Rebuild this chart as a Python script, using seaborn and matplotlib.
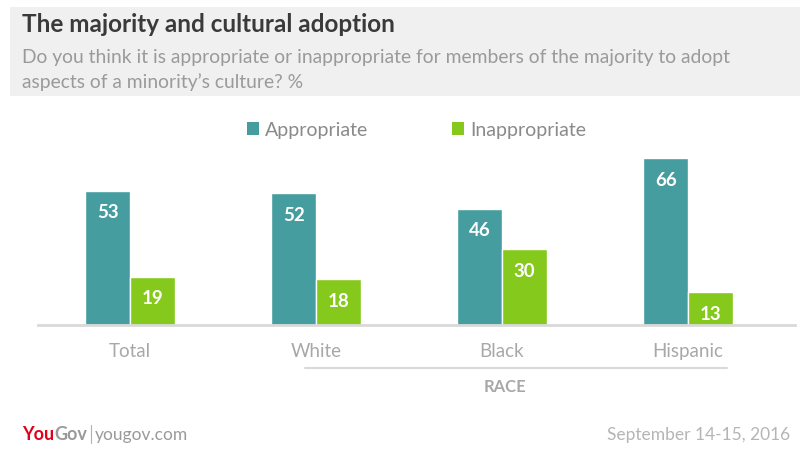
import matplotlib
matplotlib.use("Agg")
import matplotlib.pyplot as plt
from matplotlib.patches import Rectangle
from matplotlib.lines import Line2D
import seaborn as sns
import pandas as pd

categories = ["Total", "White", "Black", "Hispanic"]
series_names = ["Appropriate", "Inappropriate"]
appropriate = [53, 52, 46, 66]
inappropriate = [19, 18, 30, 13]
colors = ["#459da0", "#84c91c"]

df = pd.DataFrame({
    "group": categories * 2,
    "series": [series_names[0]] * 4 + [series_names[1]] * 4,
    "value": appropriate + inappropriate,
})

sns.set_theme(style="white")
plt.rcParams["font.family"] = ["Lato", "DejaVu Sans"]

W, H = 800, 456
fig = plt.figure(figsize=(8, 4.56), dpi=100)
fig.patch.set_facecolor("white")

def fx(px):
    return px / W

def fy(py):
    return 1 - py / H

# header box
fig.patches.append(Rectangle((fx(10), fy(97)), fx(790), (97 - 8) / H,
                             transform=fig.transFigure, facecolor="#f0f0f0",
                             edgecolor="none", zorder=0))
fig.text(fx(22), fy(25), "The majority and cultural adoption", fontsize=17.5,
         fontweight="bold", color="#3a3a3a", va="center", ha="left")
fig.text(fx(22), fy(57), "Do you think it is appropriate or inappropriate for members of the majority to adopt",
         fontsize=13.9, color="#9a9a9a", va="center", ha="left")
fig.text(fx(22), fy(82), "aspects of a minority\u2019s culture? %",
         fontsize=13.9, color="#9a9a9a", va="center", ha="left")

ax = fig.add_axes([fx(38), fy(326), fx(795) - fx(38), (326 - 110) / H])
sns.barplot(data=df, x="group", y="value", hue="series", palette=colors,
            width=0.48, ax=ax, legend=False, saturation=1, errorbar=None)
ax.set_xlim(-0.495, 3.575)
ax.set_ylim(0, 85.4)
ax.set_xlabel("")
ax.set_ylabel("")
ax.set_yticks([])
for s in ["top", "right", "left"]:
    ax.spines[s].set_visible(False)
ax.spines["bottom"].set_color("#d9d9d9")
ax.spines["bottom"].set_linewidth(2)
ax.tick_params(axis="x", length=0, pad=12, labelsize=13.5, labelcolor="#a8a8a8")

for cont in ax.containers:
    for bar in cont:
        h = bar.get_height()
        ax.annotate(f"{int(round(h))}", (bar.get_x() + bar.get_width() / 2, h),
                    xytext=(0, -21), textcoords="offset pixels",
                    ha="center", va="center", color="white", fontsize=13.5,
                    fontweight="bold")

# legend
handles = [Rectangle((0, 0), 1, 1, facecolor=c, edgecolor="none") for c in colors]
fig.legend(handles, series_names, loc="center left", bbox_to_anchor=(fx(229), fy(131)),
           ncol=2, frameon=False, fontsize=14, labelcolor="#8a8a8a",
           handlelength=0.65, handleheight=0.65, handletextpad=0.3, columnspacing=4.3)

# race bracket
fig.add_artist(Line2D([fx(305), fx(727)], [fy(369), fy(369)], transform=fig.transFigure,
                      color="#d9d9d9", linewidth=1.5))
fig.text(fx(505), fy(387), "RACE", fontsize=12, fontweight="bold", color="#a8a8a8",
         ha="center", va="center")

# footer
t1 = fig.text(fx(22), fy(435), "You", fontsize=13, fontweight="bold", color="#e2001a",
              ha="left", va="center")
fig.canvas.draw()
bb = t1.get_window_extent()
t2 = fig.text(bb.x1 / W, fy(435), "Gov", fontsize=13, fontweight="bold", color="#9a9a9a",
              ha="left", va="center")
fig.canvas.draw()
bb2 = t2.get_window_extent()
fig.add_artist(Line2D([bb2.x1 / W + fx(4), bb2.x1 / W + fx(4)], [fy(426), fy(444)],
                      transform=fig.transFigure, color="#b0b0b0", linewidth=0.8))
fig.text(bb2.x1 / W + fx(8), fy(435), "yougov.com", fontsize=12.5, color="#9a9a9a",
         ha="left", va="center")
fig.text(fx(790), fy(435), "September 14-15, 2016", fontsize=12.5, color="#b5b5b5",
         ha="right", va="center")

fig.savefig("out.png", dpi=100)
